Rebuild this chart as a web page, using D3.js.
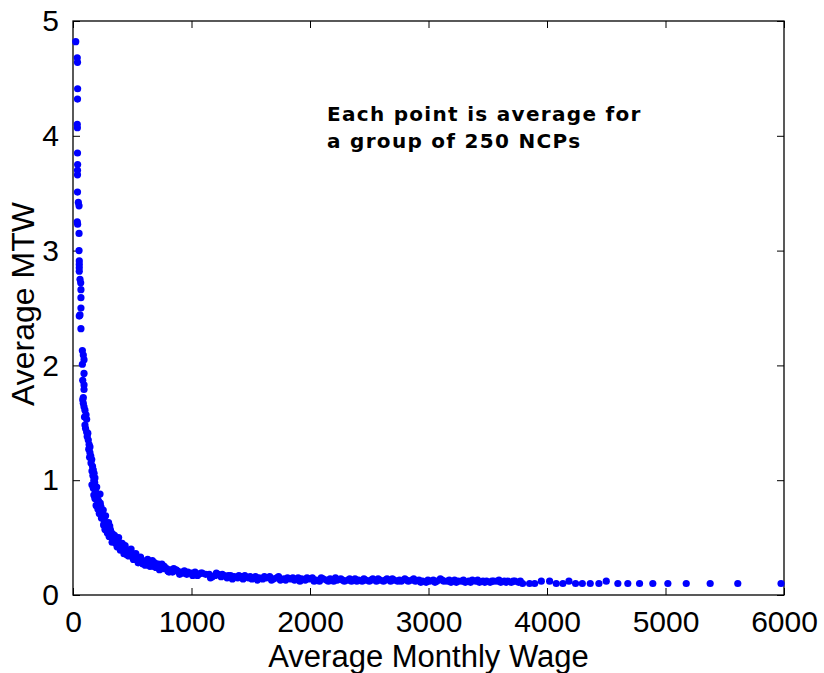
<!DOCTYPE html>
<html>
<head>
<meta charset="utf-8">
<script src="https://cdn.jsdelivr.net/npm/d3@7/dist/d3.min.js"></script>
<style>
  html, body { margin: 0; padding: 0; background: #fff; }
  svg { display: block; }
  .tick text { font-family: "Liberation Sans", Arial, sans-serif; }
</style>
</head>
<body>
<svg id="chart" width="824" height="673"></svg>
<script>
// ---- Data ----
const xTicks = [0, 1000, 2000, 3000, 4000, 5000, 6000];
const yTicks = [0, 1, 2, 3, 4, 5];
const xLabel = "Average Monthly Wage";
const yLabel = "Average MTW";
const noteLines = ["Each point is average for", "a group of 250 NCPs"];

// steep part (low wages)
const steepWage = [23,36,38,39,38,36,37,38,39,38,38,38,45,51,36,39,51,51,53,53,53,53,59,65,67,67,67,59,53,67,
  79,87,93,79,93,82,93,93,87,82,87,93,101,110,115,101,115,125,129,136,143,143,150,158,165,171,178,185,
  97,106,120,133,140,152,160,168,176,183];
const steepMtw = [4.82,4.68,4.64,4.41,4.32,4.10,4.07,3.85,3.75,3.70,3.66,3.51,3.42,3.39,3.25,3.23,3.15,3.00,2.91,2.88,2.85,2.82,2.75,2.72,2.66,2.59,2.50,2.44,2.43,2.32,
  2.13,2.09,2.05,2.01,1.93,1.87,1.83,1.79,1.72,1.70,1.67,1.64,1.61,1.57,1.53,1.48,1.42,1.41,1.35,1.31,1.29,1.24,1.21,1.18,1.12,1.09,1.06,1.02,
  1.55,1.45,1.38,1.27,1.20,1.15,1.08,1.04,1.00,0.98];

// knee of the curve
const kneeWage = [160,172,190,200,176,205,215,228,195,210,235,222,245,255,240,262,275,258,280,270,295,310,290,320,335,305,350,345,365,330,
  380,395,372,410,425,400,445,460,430,480,500,470,520,540,510,560,580,550,600,620,640,610,660,690,705,720,680,740,760,730,
  790,820,850,810,880,910,940,970,900,1000,1030,1060,1090,1120,1050,
  185,230,250,265,285,300,315,340,360,385,415,440,455,490,530,570,590,630,650,670,700,750,770,800,840,870,930,960,1010,1080];
const kneeMtw = [0.96,0.93,0.90,0.94,0.87,0.85,0.82,0.88,0.78,0.75,0.77,0.71,0.72,0.74,0.67,0.66,0.69,0.61,0.62,0.57,0.58,0.60,0.54,0.55,0.53,0.51,0.52,0.48,0.49,0.46,
  0.47,0.44,0.42,0.43,0.41,0.39,0.40,0.38,0.36,0.37,0.36,0.34,0.34,0.33,0.31,0.31,0.30,0.28,0.29,0.30,0.28,0.26,0.27,0.28,0.26,0.27,0.25,0.24,0.23,0.22,
  0.23,0.22,0.23,0.20,0.21,0.20,0.21,0.20,0.18,0.19,0.20,0.18,0.19,0.18,0.17,
  0.84,0.80,0.70,0.63,0.59,0.63,0.57,0.50,0.45,0.50,0.45,0.43,0.35,0.40,0.36,0.33,0.27,0.31,0.25,0.30,0.24,0.27,0.25,0.21,0.20,0.22,0.19,0.18,0.17,0.19];

// long flat tail
const tailWage = [1150,1175,1200,1225,1250,1275,1300,1330,1360,1390,1420,1450,1480,1510,1540,1570,1600,1630,1660,1690,1720,1750,1780,1810,1840,1870,1900,1930,1960,1990,
  2020,2050,2080,2110,2140,2170,2200,2230,2260,2290,2320,2350,2380,2410,2440,2470,2500,2530,2560,2590,2620,2650,2680,2710,2740,2770,2800,2830,2860,2890,
  2920,2950,2980,3010,3040,3070,3100,3130,3160,3190,3220,3250,3280,3310,3340,3370,3400,3430,3460,3490,3520,3550,3580,3610,3640,3670,3700,3730,3760,
  1160,1210,1260,1310,1345,1400,1435,1495,1555,1615,1675,1735,1795,1855,1915,1975,2035,2095,2155,2215,2275,2335,2395,2455,2515,2575,2635,2695,2755,2815,
  2875,2935,2995,3055,3115,3175,3235,3295,3355,3415,3475,3535,3595,3655,3715,3775];
const tailMtw = [0.18,0.16,0.17,0.18,0.16,0.17,0.15,0.17,0.16,0.15,0.16,0.17,0.15,0.14,0.16,0.15,0.14,0.15,0.16,0.14,0.15,0.13,0.14,0.15,0.14,0.13,0.15,0.14,0.13,0.14,
  0.15,0.13,0.12,0.14,0.13,0.14,0.12,0.13,0.14,0.12,0.13,0.12,0.14,0.13,0.12,0.13,0.12,0.14,0.12,0.13,0.12,0.14,0.12,0.13,0.12,0.12,0.14,0.12,0.13,0.12,
  0.13,0.12,0.11,0.12,0.13,0.12,0.14,0.12,0.12,0.11,0.13,0.12,0.12,0.11,0.12,0.13,0.12,0.11,0.12,0.12,0.11,0.12,0.12,0.11,0.12,0.12,0.11,0.12,0.11,
  0.15,0.19,0.18,0.17,0.14,0.17,0.14,0.16,0.13,0.16,0.13,0.16,0.13,0.15,0.12,0.15,0.12,0.15,0.12,0.15,0.13,0.14,0.12,0.14,0.13,0.14,0.13,0.14,0.13,0.13,
  0.14,0.11,0.13,0.11,0.13,0.13,0.11,0.13,0.11,0.13,0.11,0.12,0.13,0.11,0.12,0.12];

// sparse high-wage groups
const sparseWage = [3794,3853,3896,3952,4022,4078,4134,4185,4241,4298,4365,4438,4500,4598,4682,4781,4893,5020,5175,5377,5610,5975];
const sparseMtw = [0.10,0.10,0.10,0.12,0.12,0.10,0.10,0.12,0.10,0.10,0.10,0.10,0.12,0.10,0.10,0.10,0.10,0.10,0.10,0.10,0.10,0.10];

// ---- Build point table ----
const points = [];
[[steepWage, steepMtw], [kneeWage, kneeMtw], [tailWage, tailMtw], [sparseWage, sparseMtw]].forEach(([w, m]) => {
  w.forEach((v, i) => points.push({ wage: v, mtw: m[i] }));
});

// ---- Layout ----
const svg = d3.select("#chart");
const plotL = 73, plotR = 784, plotT = 21, plotB = 595;

const x = d3.scaleLinear().domain([0, 6000]).range([plotL, plotR]);
const y = d3.scaleLinear().domain([0, 5]).range([plotB, plotT]);

const tickLen = 7;
const fontTick = "30px";

// Bottom axis
const gx = svg.append("g").attr("transform", `translate(0,${plotB})`)
  .call(d3.axisBottom(x).tickValues(xTicks).tickSizeInner(-tickLen).tickSizeOuter(0).tickPadding(tickLen + 9).tickFormat(d3.format("d")));
gx.selectAll("text").style("font-size", fontTick).attr("fill", "#000");

// Top axis (ticks only)
svg.append("g").attr("transform", `translate(0,${plotT})`)
  .call(d3.axisTop(x).tickValues(xTicks).tickSizeInner(-tickLen).tickSizeOuter(0).tickFormat(""));

// Left axis
const gy = svg.append("g").attr("transform", `translate(${plotL},0)`)
  .call(d3.axisLeft(y).tickValues(yTicks).tickSizeInner(-tickLen).tickSizeOuter(0).tickPadding(tickLen + 7).tickFormat(d3.format("d")));
gy.selectAll("text").style("font-size", fontTick).attr("fill", "#000");

// Right axis (ticks only)
svg.append("g").attr("transform", `translate(${plotR},0)`)
  .call(d3.axisRight(y).tickValues(yTicks).tickSizeInner(-tickLen).tickSizeOuter(0).tickFormat(""));

svg.selectAll(".domain").remove();
svg.selectAll(".tick line").attr("stroke", "#000").attr("stroke-width", 1);

// Frame
svg.append("rect")
  .attr("x", plotL).attr("y", plotT)
  .attr("width", plotR - plotL).attr("height", plotB - plotT)
  .attr("fill", "none").attr("stroke", "#000").attr("stroke-width", 1.3);

// Points
svg.append("g").selectAll("circle").data(points).join("circle")
  .attr("cx", d => x(d.wage))
  .attr("cy", d => y(d.mtw))
  .attr("r", 3.6)
  .attr("fill", "#0000ff");

// Axis labels
svg.append("text")
  .attr("x", (plotL + plotR) / 2).attr("y", 667)
  .attr("text-anchor", "middle")
  .style("font-family", "'Liberation Sans', Arial, sans-serif")
  .style("font-size", "31px")
  .text(xLabel);

svg.append("text")
  .attr("transform", `translate(34,${(plotT + plotB) / 2 - 4}) rotate(-90)`)
  .attr("text-anchor", "middle")
  .style("font-family", "'Liberation Sans', Arial, sans-serif")
  .style("font-size", "32px")
  .text(yLabel);

// Annotation
const note = svg.append("text")
  .style("font-family", "'DejaVu Sans', sans-serif")
  .style("font-weight", "bold")
  .style("font-size", "20px")
  .style("letter-spacing", "1.3px");
noteLines.forEach((t, i) => {
  note.append("tspan").attr("x", 327).attr("y", 121 + i * 27).text(t);
});
</script>
</body>
</html>
